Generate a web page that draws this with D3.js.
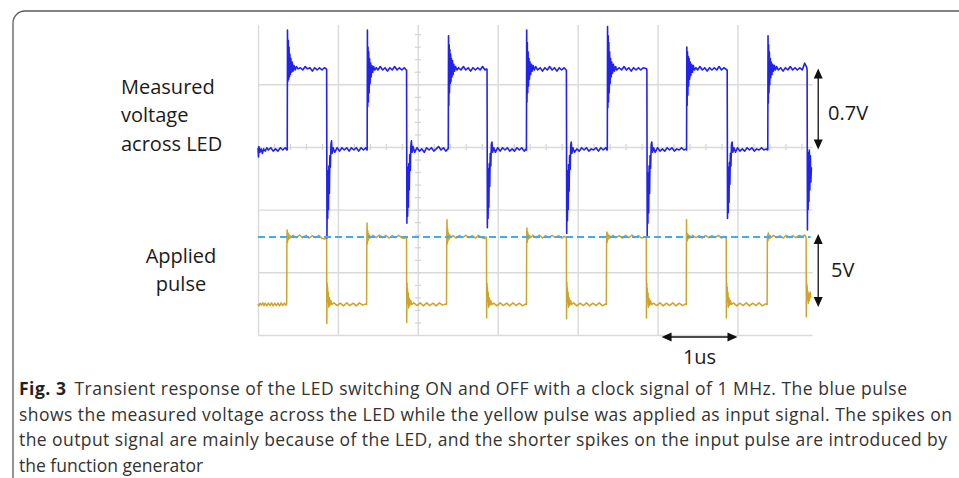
<!DOCTYPE html>
<html>
<head>
<meta charset="utf-8">
<script src="https://cdn.jsdelivr.net/npm/d3@7"></script>
<style>
  body { margin: 0; background: #fff; }
  svg { display: block; }
  .grid line { stroke: #dadada; stroke-width: 1.4; }
  .grid path { display: none; }
  .minor line { stroke: #d4d4d4; stroke-width: 1.2; }
  .minor path { display: none; }
  .lbl { font-family: "Open Sans", sans-serif; font-size: 20px; fill: #1a1a1a; }
  .cap { font-family: "Open Sans", sans-serif; font-size: 17.5px; fill: #333; }
</style>
</head>
<body>
<svg id="fig" width="959" height="478"></svg>
<script>
// scope grid (time in us, vertical in divisions)
const gridTimes = [0, 1, 2, 3, 4, 5, 6];
const gridDivs = [1, 2, 3, 4, 5];
const plotEnd = 6.94;

// annotations
const refLevel = 5;          // V, dashed line on the applied pulse
const blueSpan = [0, 0.7];   // V
const yellowSpan = [0, 5];   // V
const timeSpan = [5.05, 6.0];
const spanArrowT = 7.01;

const topLabels = ['Measured', 'voltage', 'across LED'];
const bottomLabels = ['Applied', 'pulse'];
const captionLines = [
  'shows the measured voltage across the LED while the yellow pulse was applied as input signal. The spikes on',
  'the output signal are mainly because of the LED, and the shorter spikes on the input pulse are introduced by',
  'the function generator'
];

// measured voltage across LED: [t (us), V]
const blueTrace = [
  [0.000,0.02],[0.006,-0.06],[0.012,0.03],[0.025,-0.02],[0.04,0.01],[0.055,-0.03],[0.07,0.01],[0.09,-0.01],[0.11,0.02],[0.13,0.0],[0.16,0.02],[0.19,-0.01],[0.22,0.01],[0.25,-0.01],[0.28,0.02],[0.31,0.0],[0.34,0.02],[0.362,0.0],
  [0.366,0.0],[0.369,1.05],[0.374,0.60],[0.379,0.96],[0.384,0.62],[0.389,0.90],[0.394,0.64],[0.399,0.84],[0.405,0.66],[0.412,0.80],[0.419,0.68],[0.428,0.77],[0.438,0.69],[0.45,0.74],[0.465,0.70],[0.48,0.73],[0.50,0.71],[0.53,0.72],[0.56,0.70],[0.59,0.73],[0.62,0.71],[0.65,0.72],[0.68,0.69],[0.71,0.72],[0.74,0.70],[0.77,0.72],[0.80,0.70],[0.83,0.72],[0.855,0.71],
  [0.859,0.70],[0.863,-0.77],[0.867,-0.25],[0.872,-0.60],[0.877,-0.18],[0.882,-0.52],[0.887,-0.14],[0.893,-0.38],[0.899,-0.05],[0.906,-0.15],[0.913,0.05],[0.92,0.08],[0.928,-0.03],[0.94,0.02],[0.96,-0.02],[0.99,0.02],[1.02,-0.01],[1.05,0.02],[1.08,0.0],[1.11,0.02],[1.14,-0.01],[1.17,0.02],[1.20,0.0],[1.23,0.02],[1.26,-0.01],[1.29,0.02],[1.32,0.0],[1.35,0.02],[1.362,0.0],
  [1.366,0.0],[1.369,1.05],[1.373,0.38],[1.377,0.90],[1.381,0.42],[1.386,0.86],[1.391,0.50],[1.396,0.80],[1.402,0.58],[1.409,0.76],[1.416,0.64],[1.425,0.74],[1.435,0.68],[1.447,0.73],[1.46,0.70],[1.48,0.72],[1.50,0.70],[1.53,0.73],[1.56,0.70],[1.59,0.72],[1.62,0.69],[1.65,0.72],[1.68,0.70],[1.71,0.73],[1.74,0.70],[1.77,0.72],[1.80,0.70],[1.83,0.72],[1.855,0.70],
  [1.859,0.70],[1.863,-0.64],[1.867,-0.20],[1.872,-0.58],[1.877,-0.15],[1.882,-0.50],[1.887,-0.12],[1.893,-0.35],[1.899,-0.04],[1.906,-0.18],[1.913,0.04],[1.92,0.08],[1.928,-0.02],[1.94,0.03],[1.96,-0.02],[1.99,0.02],[2.02,-0.01],[2.05,0.01],[2.08,-0.02],[2.11,0.02],[2.14,0.0],[2.17,0.02],[2.20,-0.01],[2.23,0.01],[2.26,0.03],[2.29,0.0],[2.32,0.02],[2.35,-0.01],[2.377,0.01],
  [2.381,0.01],[2.384,1.00],[2.388,0.39],[2.392,0.92],[2.396,0.50],[2.400,0.88],[2.405,0.58],[2.410,0.84],[2.415,0.60],[2.421,0.80],[2.427,0.64],[2.434,0.78],[2.441,0.66],[2.45,0.75],[2.46,0.69],[2.472,0.73],[2.49,0.70],[2.51,0.72],[2.54,0.70],[2.57,0.73],[2.60,0.70],[2.63,0.72],[2.66,0.69],[2.69,0.72],[2.72,0.70],[2.75,0.72],[2.78,0.70],[2.81,0.73],[2.84,0.70],[2.862,0.71],
  [2.866,0.70],[2.870,-0.68],[2.874,-0.22],[2.879,-0.60],[2.884,-0.16],[2.889,-0.50],[2.894,-0.12],[2.9,-0.32],[2.906,-0.03],[2.913,-0.14],[2.92,0.05],[2.928,0.07],[2.936,-0.02],[2.95,0.02],[2.97,-0.02],[3.0,0.02],[3.03,-0.01],[3.06,0.02],[3.09,0.0],[3.12,0.02],[3.15,-0.01],[3.18,0.01],[3.21,-0.01],[3.24,0.02],[3.27,0.0],[3.30,0.02],[3.33,-0.01],[3.355,0.01],
  [3.359,0.0],[3.362,1.05],[3.366,0.42],[3.370,0.94],[3.375,0.50],[3.380,0.86],[3.385,0.56],[3.391,0.80],[3.397,0.62],[3.404,0.77],[3.412,0.66],[3.421,0.75],[3.431,0.69],[3.443,0.74],[3.457,0.70],[3.475,0.73],[3.50,0.70],[3.53,0.72],[3.56,0.69],[3.59,0.72],[3.62,0.70],[3.65,0.73],[3.68,0.70],[3.71,0.72],[3.74,0.69],[3.77,0.72],[3.80,0.70],[3.83,0.72],[3.855,0.70],
  [3.859,0.70],[3.863,-0.73],[3.867,-0.24],[3.872,-0.62],[3.877,-0.18],[3.882,-0.52],[3.887,-0.13],[3.893,-0.36],[3.899,-0.05],[3.906,-0.17],[3.913,0.04],[3.92,0.07],[3.928,-0.03],[3.94,0.02],[3.96,-0.02],[3.99,0.01],[4.02,-0.01],[4.05,0.02],[4.08,0.0],[4.11,0.02],[4.14,-0.01],[4.17,0.01],[4.20,0.0],[4.23,0.02],[4.26,-0.01],[4.29,0.02],[4.32,0.0],[4.35,0.02],[4.367,0.0],
  [4.371,0.0],[4.374,1.08],[4.378,0.37],[4.382,1.0],[4.386,0.42],[4.390,0.94],[4.395,0.50],[4.400,0.86],[4.406,0.58],[4.412,0.80],[4.419,0.64],[4.427,0.77],[4.436,0.67],[4.447,0.75],[4.46,0.69],[4.475,0.73],[4.49,0.70],[4.52,0.72],[4.55,0.70],[4.58,0.73],[4.61,0.70],[4.64,0.72],[4.67,0.69],[4.70,0.72],[4.73,0.70],[4.76,0.72],[4.79,0.70],[4.82,0.72],[4.862,0.71],
  [4.866,0.70],[4.870,-0.76],[4.874,-0.26],[4.879,-0.64],[4.884,-0.20],[4.889,-0.55],[4.894,-0.14],[4.9,-0.38],[4.906,-0.05],[4.913,-0.16],[4.92,0.05],[4.928,0.07],[4.936,-0.02],[4.95,0.02],[4.97,-0.02],[5.0,0.02],[5.03,-0.01],[5.06,0.01],[5.09,-0.01],[5.12,0.02],[5.15,0.0],[5.18,0.02],[5.21,-0.01],[5.24,0.01],[5.27,0.0],[5.30,0.02],[5.33,0.0],[5.358,0.01],
  [5.3625,0.0],[5.366,0.90],[5.370,0.39],[5.374,0.86],[5.379,0.48],[5.384,0.82],[5.389,0.56],[5.395,0.80],[5.401,0.62],[5.408,0.77],[5.416,0.65],[5.425,0.75],[5.435,0.68],[5.447,0.74],[5.46,0.70],[5.48,0.72],[5.50,0.70],[5.53,0.73],[5.56,0.70],[5.59,0.72],[5.62,0.69],[5.65,0.72],[5.68,0.70],[5.71,0.72],[5.74,0.70],[5.77,0.73],[5.80,0.70],[5.83,0.72],[5.867,0.70],
  [5.871,0.70],[5.875,-0.60],[5.879,-0.20],[5.884,-0.55],[5.889,-0.15],[5.894,-0.46],[5.899,-0.11],[5.905,-0.30],[5.911,-0.03],[5.918,-0.14],[5.925,0.05],[5.933,0.07],[5.941,-0.02],[5.955,0.02],[5.975,-0.02],[6.0,0.02],[6.03,-0.01],[6.06,0.01],[6.09,-0.01],[6.12,0.02],[6.15,0.0],[6.18,0.02],[6.21,-0.01],[6.24,0.01],[6.27,0.0],[6.30,0.02],[6.33,0.0],[6.36,0.01],[6.375,0.0],
  [6.379,0.0],[6.382,1.00],[6.386,0.41],[6.390,0.92],[6.394,0.50],[6.399,0.86],[6.404,0.57],[6.410,0.80],[6.416,0.63],[6.423,0.77],[6.431,0.66],[6.44,0.75],[6.45,0.69],[6.462,0.74],[6.475,0.70],[6.49,0.73],[6.51,0.70],[6.54,0.72],[6.57,0.69],[6.60,0.72],[6.63,0.70],[6.66,0.73],[6.69,0.70],[6.72,0.72],[6.75,0.70],[6.78,0.72],[6.81,0.70],[6.84,0.76],[6.867,0.72],
  [6.871,0.70],[6.875,-0.70],[6.879,-0.05],[6.884,-0.52],[6.889,-0.02],[6.894,-0.45],[6.899,0.0],[6.905,-0.35],[6.911,-0.05],[6.918,-0.28],[6.925,-0.15]
];

// applied pulse: [t (us), V]
const yellowTrace = [
  [0.0,0.05],[0.012,-0.1],[0.025,0.1],[0.04,-0.05],[0.06,0.12],[0.075,-0.08],[0.09,0.1],[0.11,-0.1],[0.13,0.1],[0.15,-0.08],[0.17,0.12],[0.19,-0.1],[0.21,0.1],[0.23,-0.08],[0.25,0.1],[0.27,-0.1],[0.29,0.12],[0.31,-0.08],[0.33,0.1],[0.35,-0.05],
  [0.359,0.05],[0.362,5.0],[0.365,5.52],[0.369,4.6],[0.373,5.35],[0.378,4.8],[0.384,5.2],[0.391,4.9],[0.399,5.12],[0.41,4.95],[0.44,5.12],[0.48,4.95],[0.52,5.15],[0.56,4.95],[0.60,5.12],[0.64,4.92],[0.68,5.1],[0.72,4.95],[0.76,5.12],[0.80,4.9],[0.83,4.85],[0.856,4.95],
  [0.859,4.9],[0.861,-1.4],[0.865,1.6],[0.868,0.6],[0.871,1.3],[0.875,0.2],[0.88,0.9],[0.886,-0.2],[0.893,0.5],[0.901,-0.05],[0.911,0.3],[0.924,0.0],[0.95,0.12],[0.99,-0.08],[1.03,0.1],[1.07,-0.1],[1.11,0.12],[1.15,-0.08],[1.19,0.1],[1.23,-0.1],[1.27,0.12],[1.31,-0.05],[1.35,0.05],
  [1.359,0.0],[1.362,5.0],[1.365,6.04],[1.369,4.5],[1.373,5.5],[1.378,4.75],[1.384,5.25],[1.391,4.9],[1.40,5.1],[1.41,4.95],[1.44,5.12],[1.48,4.95],[1.52,5.15],[1.56,4.95],[1.60,5.12],[1.64,4.92],[1.68,5.1],[1.72,4.95],[1.76,5.12],[1.80,4.95],[1.83,4.9],[1.856,5.0],
  [1.859,4.95],[1.861,-1.34],[1.865,1.6],[1.868,0.5],[1.871,1.2],[1.875,0.1],[1.88,0.85],[1.886,-0.25],[1.893,0.45],[1.901,-0.05],[1.911,0.3],[1.924,0.0],[1.95,0.12],[1.99,-0.08],[2.03,0.12],[2.07,-0.1],[2.11,0.12],[2.15,-0.08],[2.19,0.1],[2.23,-0.1],[2.27,0.12],[2.31,-0.05],[2.35,0.05],
  [2.359,0.0],[2.362,5.0],[2.365,6.27],[2.369,4.5],[2.373,5.6],[2.378,4.7],[2.384,5.3],[2.391,4.85],[2.40,5.15],[2.41,4.95],[2.44,5.1],[2.48,4.92],[2.52,5.12],[2.56,4.95],[2.60,5.12],[2.64,4.95],[2.68,5.1],[2.72,4.92],[2.76,5.12],[2.80,4.95],[2.83,4.88],[2.856,5.0],
  [2.859,4.95],[2.861,-1.0],[2.865,1.6],[2.868,0.6],[2.871,1.3],[2.875,0.2],[2.88,0.9],[2.886,-0.2],[2.893,0.5],[2.901,-0.05],[2.911,0.3],[2.924,0.0],[2.95,0.1],[2.99,-0.1],[3.03,0.12],[3.07,-0.08],[3.11,0.1],[3.15,-0.1],[3.19,0.12],[3.23,-0.08],[3.27,0.1],[3.31,-0.1],[3.35,0.05],
  [3.359,0.0],[3.362,5.0],[3.365,5.67],[3.369,4.6],[3.373,5.4],[3.378,4.8],[3.384,5.2],[3.391,4.9],[3.40,5.1],[3.41,4.95],[3.44,5.12],[3.48,4.95],[3.52,5.15],[3.56,4.92],[3.60,5.1],[3.64,4.95],[3.68,5.12],[3.72,4.95],[3.76,5.1],[3.80,4.92],[3.83,5.05],[3.856,4.95],
  [3.859,4.95],[3.861,-1.05],[3.865,1.65],[3.868,0.6],[3.871,1.25],[3.875,0.15],[3.88,0.9],[3.886,-0.2],[3.893,0.5],[3.901,-0.05],[3.911,0.3],[3.924,0.0],[3.95,0.12],[3.99,-0.1],[4.03,0.1],[4.07,-0.08],[4.11,0.12],[4.15,-0.1],[4.19,0.1],[4.23,-0.08],[4.27,0.12],[4.31,-0.1],[4.35,0.05],
  [4.359,0.0],[4.362,5.0],[4.365,5.37],[4.369,4.6],[4.373,5.3],[4.378,4.8],[4.384,5.15],[4.391,4.9],[4.40,5.1],[4.41,4.95],[4.44,5.12],[4.48,4.95],[4.52,5.1],[4.56,4.92],[4.60,5.12],[4.64,4.95],[4.68,5.15],[4.72,4.95],[4.76,5.1],[4.80,4.92],[4.83,5.0],[4.856,4.95],
  [4.859,4.95],[4.861,-1.0],[4.865,1.6],[4.868,0.55],[4.871,1.2],[4.875,0.15],[4.88,0.85],[4.886,-0.2],[4.893,0.45],[4.901,-0.05],[4.911,0.3],[4.924,0.0],[4.95,0.1],[4.99,-0.08],[5.03,0.12],[5.07,-0.1],[5.11,0.1],[5.15,-0.08],[5.19,0.12],[5.23,-0.1],[5.27,0.1],[5.31,-0.08],[5.35,0.05],
  [5.359,0.0],[5.362,6.27],[5.364,4.9],[5.367,5.2],[5.37,4.7],[5.374,5.25],[5.379,4.85],[5.385,5.15],[5.392,4.9],[5.40,5.1],[5.41,4.95],[5.44,5.12],[5.48,4.95],[5.52,5.1],[5.56,4.92],[5.60,5.12],[5.64,4.95],[5.68,5.1],[5.72,4.95],[5.76,5.12],[5.80,4.92],[5.83,5.05],[5.856,4.95],
  [5.859,4.95],[5.861,-1.0],[5.865,1.6],[5.868,0.6],[5.871,1.3],[5.875,0.2],[5.88,0.9],[5.886,-0.2],[5.893,0.5],[5.901,-0.05],[5.911,0.3],[5.924,0.0],[5.95,0.12],[5.99,-0.1],[6.03,0.1],[6.07,-0.08],[6.11,0.12],[6.15,-0.1],[6.19,0.1],[6.23,-0.08],[6.27,0.12],[6.31,-0.1],[6.35,0.05],
  [6.371,0.0],[6.374,5.0],[6.377,5.15],[6.381,4.7],[6.385,5.3],[6.39,4.85],[6.396,5.15],[6.403,4.9],[6.41,5.1],[6.42,4.95],[6.45,5.12],[6.49,4.95],[6.53,5.1],[6.57,4.92],[6.61,5.12],[6.65,4.95],[6.69,5.1],[6.73,4.95],[6.77,5.12],[6.81,5.05],[6.84,5.15],[6.856,5.0],
  [6.859,4.95],[6.861,-0.9],[6.865,1.6],[6.868,0.7],[6.871,1.4],[6.875,0.4],[6.88,1.0],[6.886,0.1],[6.893,0.8],[6.90,0.3],[6.91,0.9],[6.918,0.5]
];

const svg = d3.select('#fig');

const x = d3.scaleLinear().domain([0, 6]).range([258, 737.5]);
const yDiv = d3.scaleLinear().domain([0, 5]).range([21.6, 335]);
const yBlue = d3.scaleLinear().domain([0, 0.7]).range([150, 70]);
const yYel = d3.scaleLinear().domain([0, 5]).range([304.5, 237]);
const gridTop = 25;

// frame of the figure box
svg.append('path')
  .attr('d', 'M13,478 L13,23 A12,12 0 0 1 25,11 L959,11')
  .attr('fill', 'none')
  .attr('stroke', '#5a5a5a')
  .attr('stroke-width', 1.3);

// grid
svg.append('g')
  .attr('class', 'grid')
  .attr('transform', `translate(0, ${yDiv(5)})`)
  .call(d3.axisBottom(x)
    .tickValues(gridTimes)
    .tickSize(-(yDiv(5) - gridTop))
    .tickFormat(''));

svg.append('g')
  .attr('class', 'grid')
  .attr('transform', `translate(${x(0)}, 0)`)
  .call(d3.axisLeft(yDiv)
    .tickValues(gridDivs)
    .tickSize(-(x(plotEnd) - x(0)))
    .tickFormat(''));

// small ticks on the centre lines
svg.append('g')
  .attr('class', 'minor')
  .attr('transform', `translate(0, ${yDiv(2) - 3})`)
  .call(d3.axisBottom(x)
    .tickValues(d3.range(0.2, plotEnd, 0.2))
    .tickSize(6)
    .tickFormat(''));

svg.append('g')
  .attr('class', 'minor')
  .attr('transform', `translate(${x(2) + 3}, 0)`)
  .call(d3.axisLeft(yDiv)
    .tickValues(d3.range(0.2, 5, 0.2).filter(d => yDiv(d) > gridTop))
    .tickSize(6)
    .tickFormat(''));

// traces
const blueLine = d3.line().x(d => x(d[0])).y(d => yBlue(d[1]));
const yelLine = d3.line().x(d => x(d[0])).y(d => yYel(d[1]));

svg.append('path')
  .datum(yellowTrace)
  .attr('d', yelLine)
  .attr('fill', 'none')
  .attr('stroke', '#cfa42a')
  .attr('stroke-width', 1.5)
  .attr('stroke-linejoin', 'round');

svg.append('path')
  .datum(blueTrace)
  .attr('d', blueLine)
  .attr('fill', 'none')
  .attr('stroke', '#2222f0')
  .attr('stroke-width', 1.6)
  .attr('stroke-linejoin', 'round');

svg.append('line')
  .attr('x1', x(0)).attr('x2', x(plotEnd) - 2)
  .attr('y1', yYel(refLevel)).attr('y2', yYel(refLevel))
  .attr('stroke', '#45aaea')
  .attr('stroke-width', 1.8)
  .attr('stroke-dasharray', '7,4');

// double headed arrows
function arrow(x1, y1, x2, y2) {
  var g = svg.append('g');
  var ang = Math.atan2(y2 - y1, x2 - x1);
  var len = 10, hw = 4.5;
  g.append('line')
    .attr('x1', x1 + Math.cos(ang) * 5).attr('y1', y1 + Math.sin(ang) * 5)
    .attr('x2', x2 - Math.cos(ang) * 5).attr('y2', y2 - Math.sin(ang) * 5)
    .attr('stroke', '#111').attr('stroke-width', 1.3);
  [[x1, y1, ang + Math.PI], [x2, y2, ang]].forEach(function (h) {
    var tx = h[0], ty = h[1], a = h[2];
    var bx = tx - Math.cos(a) * len, by = ty - Math.sin(a) * len;
    var pts = [[tx, ty],
      [bx + Math.sin(a) * hw, by - Math.cos(a) * hw],
      [bx - Math.sin(a) * hw, by + Math.cos(a) * hw]];
    g.append('polygon').attr('points', pts.map(p => p.join(',')).join(' ')).attr('fill', '#111');
  });
}

arrow(x(spanArrowT), yBlue(blueSpan[1]) - 1.5, x(spanArrowT), yBlue(blueSpan[0]) - 0.5);
arrow(x(spanArrowT), yYel(yellowSpan[1]) - 3, x(spanArrowT), yYel(yellowSpan[0]) + 2.5);
arrow(x(timeSpan[0]), 337, x(timeSpan[1]), 337);

// labels
svg.append('text').attr('class', 'lbl').attr('x', 828).attr('y', 120).text('0.7V');
svg.append('text').attr('class', 'lbl').attr('x', 831).attr('y', 277).text('5V');
svg.append('text').attr('class', 'lbl')
  .attr('x', (x(timeSpan[0]) + x(timeSpan[1])) / 2).attr('y', 364)
  .attr('text-anchor', 'middle').text('1us');

svg.selectAll('text.top')
  .data(topLabels)
  .enter()
  .append('text')
  .attr('class', 'lbl top')
  .attr('x', 121)
  .attr('y', (d, i) => 94 + i * 28.3)
  .text(d => d);

svg.selectAll('text.bot')
  .data(bottomLabels)
  .enter()
  .append('text')
  .attr('class', 'lbl bot')
  .attr('x', 181)
  .attr('y', (d, i) => 263 + i * 27.5)
  .attr('text-anchor', 'middle')
  .text(d => d);

// caption
var cap1 = svg.append('text').attr('class', 'cap').attr('x', 19).attr('y', 395)
  .attr('textLength', 888).attr('lengthAdjust', 'spacing');
cap1.append('tspan').attr('font-weight', 'bold').attr('fill', '#222').text('Fig. 3');
cap1.append('tspan').attr('dx', 8)
  .text('Transient response of the LED switching ON and OFF with a clock signal of 1 MHz. The blue pulse');

var capWidths = [933, 928, null];
captionLines.forEach(function (line, i) {
  var t = svg.append('text').attr('class', 'cap')
    .attr('x', 19).attr('y', 420.5 + i * 25.5)
    .text(line);
  if (capWidths[i]) t.attr('textLength', capWidths[i]).attr('lengthAdjust', 'spacing');
});
</script>
</body>
</html>
